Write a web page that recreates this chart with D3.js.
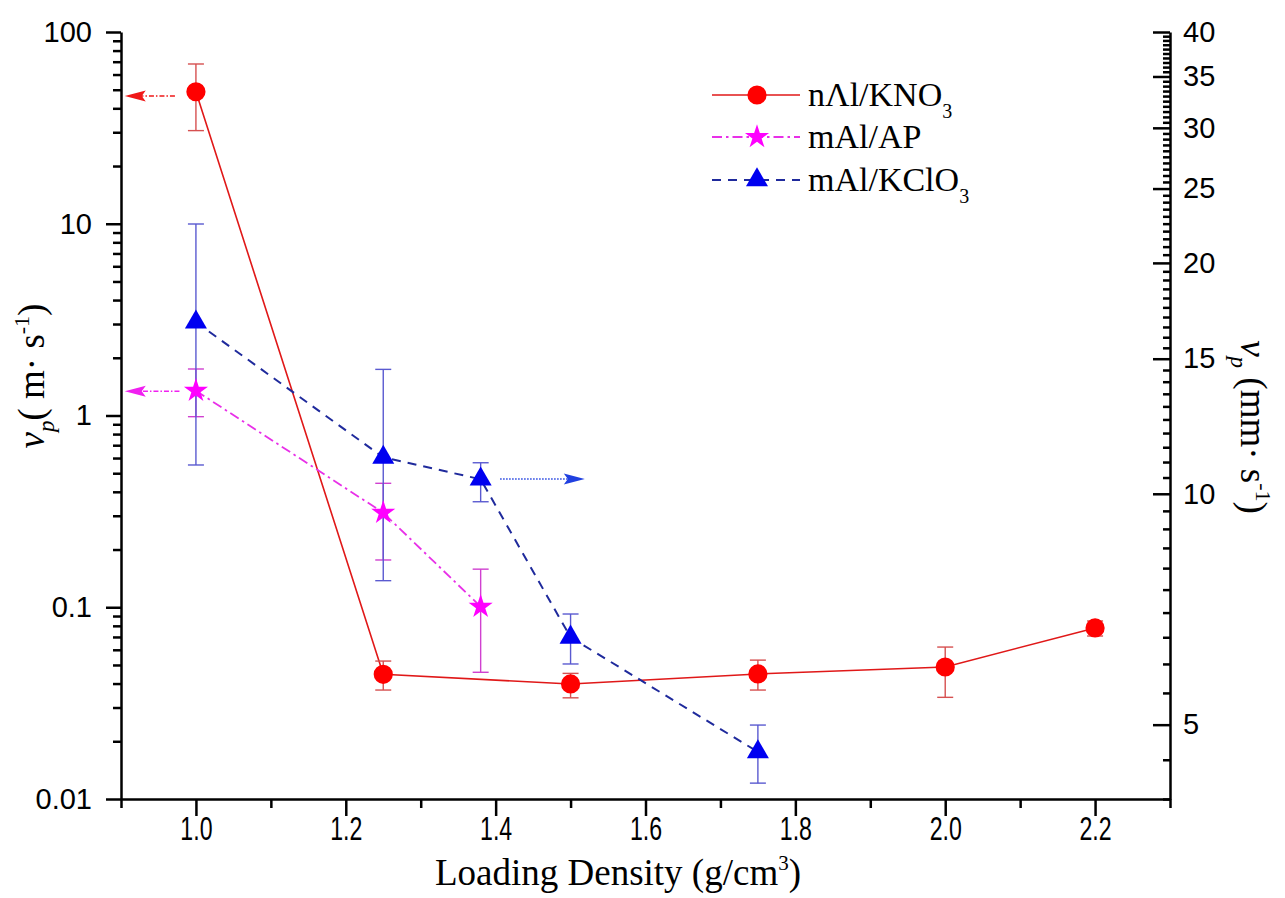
<!DOCTYPE html>
<html>
<head>
<meta charset="utf-8">
<script src="https://cdn.jsdelivr.net/npm/d3@7"></script>
<style>
  body { margin: 0; background: #fff; }
  svg { display: block; }
</style>
</head>
<body>
<svg class="chart"></svg>
<script>
// loading density (g/cm3) and burning velocity vp (m/s)
var densKNO3 = [1.0, 1.25, 1.5, 1.75, 2.0, 2.2];
var vpKNO3 = [48.8, 0.0447, 0.0398, 0.0449, 0.0488, 0.078];
var loKNO3 = [30.6, 0.037, 0.0337, 0.037, 0.0339, 0.0708];
var hiKNO3 = [68.1, 0.0524, 0.0452, 0.053, 0.062, 0.0848];

var densAP = [1.0, 1.25, 1.38];
var vpAP = [1.347, 0.311, 0.1007];
var loAP = [0.986, 0.1764, 0.0458];
var hiAP = [1.748, 0.443, 0.158];

var densKClO3 = [1.0, 1.25, 1.38, 1.5, 1.75];
var vpKClO3 = [3.07, 0.605, 0.465, 0.0697, 0.0176];
var loKClO3 = [0.552, 0.1376, 0.355, 0.0506, 0.0121];
var hiKClO3 = [9.97, 1.74, 0.567, 0.0922, 0.0243];

var xTicks = [1.0, 1.2, 1.4, 1.6, 1.8, 2.0, 2.2];
var xMinorTicks = [0.9, 1.1, 1.3, 1.5, 1.7, 1.9, 2.1, 2.3];
var yLeftTicks = [0.01, 0.1, 1, 10, 100];
var yLeftLabels = ['0.01', '0.1', '1', '10', '100'];
var yRightTicks = [5, 10, 15, 20, 25, 30, 35, 40];

// arrows pointing each series to its axis: [x from, x to, vp]
var arrowKNO3 = [0.972, 0.905, 46.3];
var arrowAP = [0.978, 0.905, 1.34];
var arrowKClO3 = [1.406, 1.519, 0.466];

var width = 1285;
var height = 898;
var chart = d3.select('.chart').attr('width', width).attr('height', height);

var sans = '"Liberation Sans", Arial, sans-serif';
var serif = '"Liberation Serif", "Times New Roman", serif';

var x = d3.scaleLinear().domain([0.9, 2.3]).range([121, 1170]);
var yLeft = d3.scaleLog().domain([0.01, 100]).range([799, 32]);
var yRight = d3.scaleLog().domain([4, 40]).range([799, 32]);

// minor tick lists for the log axes
var yLeftMinor = [];
[0.01, 0.1, 1, 10].forEach(d => {
  for (var k = 2; k <= 9; k++) yLeftMinor.push(d * k);
});
var yRightMinor = [];
for (var v = 4; v <= 40; v += 0.5) {
  if (yRightTicks.indexOf(v) < 0) yRightMinor.push(v);
}

function styleAxis(g) {
  g.selectAll('path, line').attr('stroke', '#000').attr('stroke-width', 2.5);
  g.selectAll('text').attr('fill', '#000').style('font-family', sans).style('font-size', '29px');
}

// bottom axis
chart.append('g')
  .attr('transform', 'translate(0,799)')
  .call(d3.axisBottom(x).tickValues(xMinorTicks).tickSize(9).tickFormat(''))
  .call(g => g.select('.domain').remove())
  .call(styleAxis);
var xAxis = chart.append('g')
  .attr('transform', 'translate(0,799)')
  .call(d3.axisBottom(x).tickValues(xTicks).tickSize(17).tickSizeOuter(0).tickPadding(0).tickFormat(d3.format('.1f')))
  .call(styleAxis);
xAxis.selectAll('text').style('font-size', '34px').attr('transform', 'scale(0.68,1)');

// left axis
chart.append('g')
  .attr('transform', 'translate(121,0)')
  .call(d3.axisLeft(yLeft).tickValues(yLeftMinor).tickSize(8).tickFormat(''))
  .call(g => g.select('.domain').remove())
  .call(styleAxis);
chart.append('g')
  .attr('transform', 'translate(121,0)')
  .call(d3.axisLeft(yLeft).tickValues(yLeftTicks).tickSize(15).tickSizeOuter(0).tickPadding(14)
    .tickFormat((d, i) => yLeftLabels[i]))
  .call(styleAxis);

// right axis (mm/s), ticks point inward
chart.append('g')
  .attr('transform', 'translate(1170,0)')
  .call(d3.axisRight(yRight).tickValues(yRightMinor).tickSize(-7).tickFormat(''))
  .call(g => g.select('.domain').remove())
  .call(styleAxis);
chart.append('g')
  .attr('transform', 'translate(1170,0)')
  .call(d3.axisRight(yRight).tickValues(yRightTicks).tickSize(-17).tickSizeOuter(0).tickPadding(13)
    .tickFormat(d3.format('d')))
  .call(styleAxis);

// series table built from the arrays above
var series = [
  { name: 'KNO3', xs: densKNO3, ys: vpKNO3, lo: loKNO3, hi: hiKNO3,
    color: '#ff0000', line: '#e01818', err: '#d65050', dash: null, width: 1.6, symbol: d3.symbolCircle, size: 290 },
  { name: 'AP', xs: densAP, ys: vpAP, lo: loAP, hi: hiAP,
    color: '#ff00ff', line: '#e830e8', err: '#d040d0', dash: '10,4,2.5,4', width: 1.8, symbol: d3.symbolStar, size: 180 },
  { name: 'KClO3', xs: densKClO3, ys: vpKClO3, lo: loKClO3, hi: hiKClO3,
    color: '#0000f0', line: '#1f2a9c', err: '#5a5ad0', dash: '9,7', width: 2, symbol: d3.symbolTriangle, size: 210 }
];

var plot = chart.append('g');

series.forEach(s => {
  var pts = s.xs.map((d, i) => ({ x: d, y: s.ys[i], lo: s.lo[i], hi: s.hi[i] }));

  plot.append('path')
    .datum(pts)
    .attr('fill', 'none')
    .attr('stroke', s.line)
    .attr('stroke-width', s.width)
    .attr('stroke-dasharray', s.dash)
    .attr('d', d3.line().x(d => x(d.x)).y(d => yLeft(d.y)));

  var eb = plot.append('g').selectAll('g').data(pts).enter().append('g')
    .attr('stroke', s.err).attr('stroke-width', 1.4);
  eb.append('line')
    .attr('x1', d => x(d.x)).attr('x2', d => x(d.x))
    .attr('y1', d => yLeft(d.lo)).attr('y2', d => yLeft(d.hi));
  eb.append('line')
    .attr('x1', d => x(d.x) - 8).attr('x2', d => x(d.x) + 8)
    .attr('y1', d => yLeft(d.hi)).attr('y2', d => yLeft(d.hi));
  eb.append('line')
    .attr('x1', d => x(d.x) - 8).attr('x2', d => x(d.x) + 8)
    .attr('y1', d => yLeft(d.lo)).attr('y2', d => yLeft(d.lo));

  s.pts = pts;
});

series.forEach(s => {
  plot.append('g').selectAll('path').data(s.pts).enter().append('path')
    .attr('transform', d => 'translate(' + x(d.x) + ',' + yLeft(d.y) + ')')
    .attr('d', d3.symbol().type(s.symbol).size(s.size))
    .attr('fill', s.color);
});

// arrows
function arrow(a, color, dash) {
  var x1 = x(a[0]), x2 = x(a[1]), yy = yLeft(a[2]);
  var dir = x2 < x1 ? -1 : 1;
  chart.append('line')
    .attr('x1', x1).attr('x2', x2 - dir * 16).attr('y1', yy).attr('y2', yy)
    .attr('stroke', color).attr('stroke-width', 1.5).attr('stroke-dasharray', dash);
  chart.append('path')
    .attr('d', 'M' + x2 + ',' + yy + 'L' + (x2 - dir * 21) + ',' + (yy - 5.5) +
      'L' + (x2 - dir * 17) + ',' + yy + 'L' + (x2 - dir * 21) + ',' + (yy + 5.5) + 'Z')
    .attr('fill', color);
}
arrow(arrowKNO3, '#f01818', '5,2,1.5,2');
arrow(arrowAP, '#f020f0', '5,2,1.5,2');
arrow(arrowKClO3, '#2040e0', '1.5,1.5');

// legend
var legendNames = [['n\u039bl/KNO', '3'], ['mAl/AP', ''], ['mAl/KClO', '3']];
var legendY = [95, 137, 180];
var legend = chart.append('g');
series.forEach((s, i) => {
  var row = legend.append('g').attr('transform', 'translate(0,' + legendY[i] + ')');
  row.append('line')
    .attr('x1', 712).attr('x2', 800).attr('y1', 0).attr('y2', 0)
    .attr('stroke', s.line).attr('stroke-width', s.width)
    .attr('stroke-dasharray', s.dash);
  row.append('path')
    .attr('transform', 'translate(757,0)')
    .attr('d', d3.symbol().type(s.symbol).size(s.size))
    .attr('fill', s.color);
  var t = row.append('text')
    .attr('x', 808).attr('y', 11)
    .style('font-family', serif).style('font-size', '34px').attr('fill', '#000');
  t.append('tspan').text(legendNames[i][0]);
  if (legendNames[i][1]) {
    t.append('tspan').attr('dy', 12).style('font-size', '20px').text(legendNames[i][1]);
  }
});

// axis titles
var xt = chart.append('text')
  .attr('x', 618).attr('y', 885)
  .attr('text-anchor', 'middle')
  .style('font-family', serif).style('font-size', '37px').attr('fill', '#000');
xt.append('tspan').text('Loading Density (g/cm');
xt.append('tspan').attr('dy', -15).style('font-size', '21px').text('3');
xt.append('tspan').attr('dy', 15).text(')');

function vTitle(tx, ty, rot, rest) {
  var t = chart.append('text')
    .attr('transform', 'translate(' + tx + ',' + ty + ') rotate(' + rot + ')')
    .attr('text-anchor', 'middle')
    .style('font-family', serif).style('font-size', '37px').attr('fill', '#000');
  t.append('tspan').style('font-style', 'italic').text('v');
  t.append('tspan').attr('dy', 10).style('font-style', 'italic').style('font-size', '23px').text('p');
  t.append('tspan').attr('dy', -10).text(rest);
  t.append('tspan').attr('dy', -15).style('font-size', '22px').text('-1');
  t.append('tspan').attr('dy', 15).text(')');
}
vTitle(44, 376, -90, '( m\u00b7 s');
vTitle(1241, 427, 90, ' (mm\u00b7 s');
</script>
</body>
</html>
